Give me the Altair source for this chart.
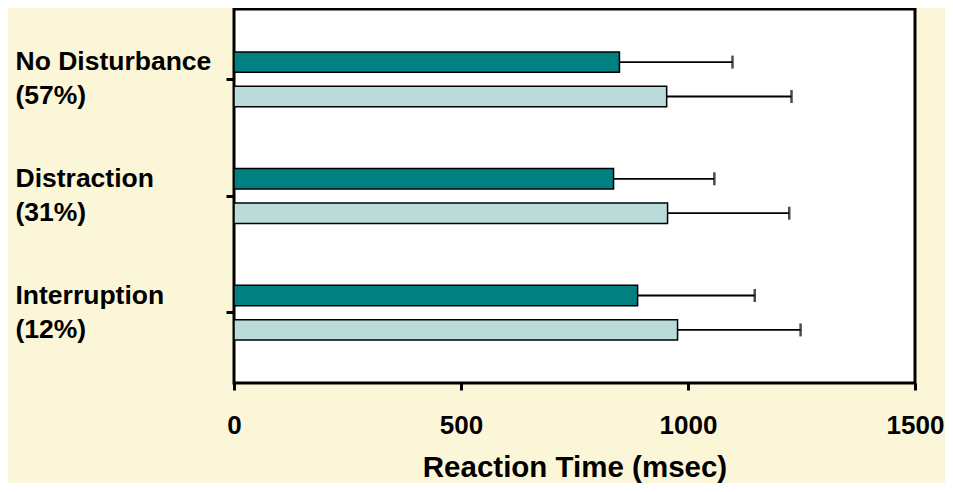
import altair as alt
import pandas as pd

categories = ["No Disturbance", "Distraction", "Interruption"]
percents = ["(57%)", "(31%)", "(12%)"]
series = ["Condition A", "Condition B"]
means_a = [849, 836, 889]
means_b = [953, 955, 977]
errs_a = [249, 222, 258]
errs_b = [275, 268, 271]

rows = []
for i, c in enumerate(categories):
    lab = c + "|" + percents[i]
    rows.append({"cat": lab, "series": series[0], "value": means_a[i], "upper": means_a[i] + errs_a[i]})
    rows.append({"cat": lab, "series": series[1], "value": means_b[i], "upper": means_b[i] + errs_b[i]})
df = pd.DataFrame(rows)
cat_order = [c + "|" + p for c, p in zip(categories, percents)]

yenc = alt.Y("cat:N", sort=cat_order, title=None,
             scale=alt.Scale(paddingInner=0.53, paddingOuter=0.3675),
             axis=alt.Axis(labelExpr="split(datum.label, '|')", labelAlign="left",
                           labelBaseline="middle", labelPadding=211, labelLineHeight=34,
                           labelOffset=-17,
                           labelFont="Liberation Sans", labelFontWeight="bold",
                           labelFontSize=26.5, labelColor="black", labelOverlap=False,
                           labelFlush=False, labelBound=False, labelLimit=0,
                           tickSize=8, tickWidth=3, tickColor="black", domain=False))
yoff = alt.YOffset("series:N", sort=series,
                   scale=alt.Scale(paddingInner=0.406, paddingOuter=0))

xscale = alt.Scale(domain=[0, 1500], nice=False, zero=True)

bars = alt.Chart(df).mark_bar(stroke="black", strokeWidth=1.5).encode(
    x=alt.X("value:Q", scale=xscale, title="Reaction Time (msec)",
            axis=alt.Axis(values=[0, 500, 1000, 1500], format="d", grid=False, domain=False,
                          tickSize=7, tickWidth=3, tickColor="black",
                          labelFont="Liberation Sans", labelFontWeight="bold",
                          labelFontSize=26, labelColor="black", labelPadding=22,
                          labelFlush=False, labelOverlap=False, labelBound=False,
                          titleFont="Liberation Sans", titleFontWeight="bold",
                          titleFontSize=29.5, titleColor="black", titlePadding=15)),
    y=yenc,
    yOffset=yoff,
    color=alt.Color("series:N", sort=series, legend=None,
                    scale=alt.Scale(domain=series, range=["#008080", "#B9DBDA"])),
)

rules = alt.Chart(df).mark_rule(color="black", strokeWidth=1.8).encode(
    x=alt.X("value:Q", scale=xscale),
    x2="upper:Q",
    y=yenc,
    yOffset=yoff,
)

caps = alt.Chart(df).mark_tick(color="black", thickness=2.5, size=13, orient="vertical").encode(
    x=alt.X("upper:Q", scale=xscale),
    y=yenc,
    yOffset=yoff,
)

chart = (rules + bars + caps).properties(
    width=681, height=374,
    background="#FBF6D8",
    padding={"left": 226, "top": 1, "right": 30, "bottom": 100},
    autosize=alt.AutoSizeParams(type="none"),
).configure_view(stroke="black", strokeWidth=3, fill="white")

chart.save("out.html", embed_options={"renderer": "svg", "actions": False})
